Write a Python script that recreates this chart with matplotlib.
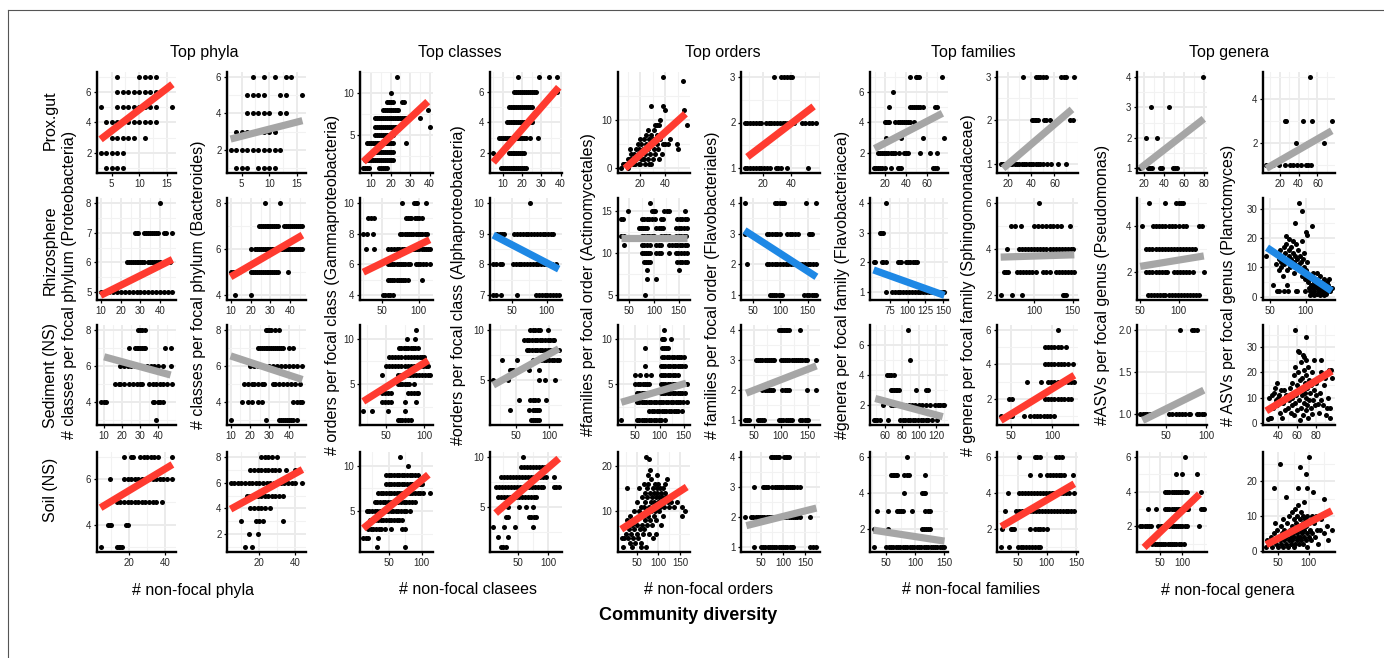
import matplotlib
matplotlib.use('Agg')
import matplotlib.pyplot as plt
from matplotlib.lines import Line2D
from matplotlib.ticker import FixedLocator, AutoMinorLocator, FuncFormatter

plt.rcParams['font.family'] = ['Liberation Sans', 'DejaVu Sans']

# ---------------- labels ----------------
group_titles = ["Top phyla", "Top classes", "Top orders", "Top families", "Top genera"]
group_xlabels = ["# non-focal phyla", "# non-focal clasees", "# non-focal orders",
                 "# non-focal families", "# non-focal genera"]
row_labels = ["Prox.gut", "Rhizosphere", "Sediment (NS)", "Soil (NS)"]
col_ylabels = ["# classes per focal phylum (Proteobacteria)",
               "# classes per focal phylum (Bacteroides)",
               "# orders per focal class (Gammaproteobacteria)",
               "#orders per focal class (Alphaproteobacteria)",
               "#families per focal order (Actinomycetales)",
               "# families per focal order (Flavobacteriales)",
               "#genera per focal family (Flavobacteriacea)",
               "# genera per focal family (Sphingomonadaceae)",
               "#ASVs per focal genus (Pseudomonas)",
               "# ASVs per focal genus (Planctomyces)"]
overall_xlabel = "Community diversity"

# ---------------- Prox.gut ----------------
gut_prot = [(7, [6, 10, 11, 12, 13]), (6, [6, 7, 8, 9, 10, 11, 12, 13]),
            (5, [3, 6, 7, 8, 9, 10, 11, 12, 13, 16]), (4, [4, 5, 6, 7, 8, 9, 10, 11, 12, 13]),
            (3, [5, 6, 7, 8, 9, 11]), (2, [3, 4, 5, 6, 7]), (1, [4, 5, 6, 7])]
gut_bact = [(6, [7, 9, 11, 13, 14]), (5, [6, 7, 8, 9, 12, 13, 16]), (4, [6, 7, 8, 9, 10, 12, 13]),
            (3, [4, 5, 6, 7, 8, 9, 10, 11]), (2, [3, 4, 5, 6, 7, 8, 9, 10, 11, 12]),
            (1, [4, 5, 6, 8, 9, 10, 11])]
gut_gamma = [(12, [23]), (10, [20]), (9, [18, 19, 20, 21, 26, 27]),
             (8, [16, 17, 18, 19, 20, 21, 22, 23, 24, 39]),
             (7, [12, 13, 14, 15, 16, 17, 18, 19, 20, 21, 22, 23, 24, 25, 26, 27, 28, 35]),
             (6, [12, 13, 14, 15, 16, 17, 18, 19, 20, 21, 22, 23, 40]),
             (5, [12, 13, 14, 15, 16, 17, 18, 19, 20, 21]),
             (4, [8, 9, 10, 11, 12, 13, 14, 15, 16, 17, 18, 19, 20, 21, 28]),
             (3, [12, 13, 14, 15, 16, 17, 18, 19, 20, 21]),
             (2, [7, 8, 9, 10, 11, 12, 13, 14, 15, 16, 17, 18, 19, 20, 21]),
             (1, [6, 7, 8, 9, 14, 15, 16, 17, 18])]
gut_alpha = [(7, [18, 29, 34, 38]), (6, [16, 17, 18, 19, 20, 21, 22, 23, 24, 25, 26, 27, 38]),
             (5, [13, 14, 15, 16, 17, 18, 19, 20, 21, 22, 23, 24, 25]),
             (4, [12, 13, 14, 15, 16, 17, 18, 19, 20, 21, 22, 23, 24, 25]),
             (3, [8, 9, 10, 11, 12, 13, 14, 15, 16, 17, 18, 19, 20, 21, 22, 24, 28]),
             (2, [5, 13, 14, 15, 16, 17, 18, 19, 20, 21]),
             (1, [9, 10, 11, 12, 13, 14, 15, 16, 17, 18, 19, 20, 21, 22])]
gut_actino = [(38, 19), (54, 18), (29, 13), (38, 13), (40, 12), (55, 12), (33, 9), (35, 9), (57, 9),
              (12, 4), (49, 5), (50, 4), (40, 5), (42, 5), (5, 0), (6, 1), (7, 1), (8, 1), (9, 1),
              (10, 2), (11, 1), (12, 2), (13, 2), (14, 2), (15, 3), (16, 1), (17, 2), (18, 3), (19, 4),
              (20, 1), (20, 3), (21, 5), (22, 4), (22, 2), (23, 6), (24, 3), (25, 5), (25, 7), (26, 4),
              (26, 2), (27, 6), (28, 3), (28, 5), (29, 7), (30, 2), (30, 6), (31, 4), (32, 3), (33, 5),
              (33, 7), (34, 4), (35, 2), (36, 6), (37, 3), (20, 6), (18, 5), (24, 1), (15, 1), (10, 0),
              (13, 3), (27, 1), (31, 8), (29, 1), (23, 2), (19, 1), (17, 4), (32, 9), (36, 10), (26, 8),
              (44, 6), (38, 5), (21, 2), (16, 2), (14, 1)]
gut_flavo_o = [(3, [28, 33, 35, 37, 39, 41]),
               (2, [7, 9, 11, 13, 15, 17, 19, 22, 24, 26, 28, 30, 32, 34, 36, 38, 40, 42, 48, 50, 53, 55, 58]),
               (1, [7, 9, 11, 13, 15, 17, 19, 21, 23, 25, 29, 31, 33, 37, 52])]
gut_flavo_f = [(7, [44, 50, 51, 53, 75]), (6, [28]), (5, [24, 44, 46, 48, 50, 52, 54, 56, 68, 70]),
               (4, [20, 21, 23, 24, 30, 32, 34, 36, 38, 40, 42, 44, 48]), (3, [21, 35, 56, 77]),
               (2, [13, 15, 17, 19, 21, 23, 26, 28, 30, 33, 38, 40, 42, 54, 63, 70]),
               (1, [9, 11, 13, 15, 17, 20, 26, 32, 33, 35, 66, 68, 70])]
gut_sphingo = [(3, [33, 44, 46, 48, 50, 53, 66, 68, 70, 77]),
               (2, [41, 42, 43, 44, 46, 51, 53, 56, 73, 76]),
               (1, [14, 16, 18, 20, 22, 24, 26, 28, 30, 32, 34, 36, 38, 40, 42, 44, 46, 48, 50, 54, 57, 63, 70])]
gut_pseudo = [(4, [79]), (3, [27, 45]), (2, [22, 33]), (1, [16, 24, 26, 28, 36, 38, 49, 51, 53])]
gut_plancto = [(5, [52]), (3, [26, 27, 45, 54, 75]), (2, [37, 50, 67]),
               (1, [6, 13, 19, 26, 31, 34, 38, 43, 48, 50, 53])]

# ---------------- Rhizosphere ----------------
rhi_prot = [(8, [40]), (7, [27, 28, 29, 32, 33, 34, 35, 36, 37, 38, 39, 42, 43, 46]),
            (6, [23, 24, 25, 26, 27, 28, 29, 30, 31, 32, 34, 35, 36, 37, 38, 39, 40, 45]),
            (5, [10, 11, 12, 14, 16, 18, 20, 22, 24, 26, 28, 30, 32, 34, 36, 38, 40, 42, 44, 46])]
rhi_bact = [(8, [27, 35]),
            (7, [24, 25, 26, 27, 28, 29, 30, 31, 32, 33, 34, 37, 38, 39, 40, 41, 42, 43, 44, 45, 46]),
            (6, [20, 22, 23, 24, 25, 26, 27, 28, 29, 30, 31, 32, 33, 34, 35, 36, 37, 38, 39, 40, 41, 42,
                 43, 44, 45, 46]),
            (5, [10, 11, 12, 13, 14, 20, 21, 22, 23, 24, 25, 26, 27, 28, 29, 30, 31, 32, 33, 34, 39]),
            (4, [12, 20])]
rhi_gamma = [(10, [77, 94, 96, 98, 110]), (9, [31, 35, 40, 83, 85, 88, 90, 95, 98, 101, 104]),
             (8, [25, 30, 38, 75, 78, 81, 84, 87, 90, 93, 96, 99, 102, 105, 108, 112]),
             (7, [29, 39, 58, 62, 67, 71, 74, 77, 80, 83, 86, 89, 92, 95, 98, 101, 104, 107, 110, 113, 115]),
             (6, [58, 61, 64, 67, 70, 73, 76, 79, 82, 85, 88, 96, 99, 102, 106, 110, 115]),
             (5, [58, 61, 64, 67, 70, 73, 76, 79, 82, 85, 104]), (4, [52, 55, 58, 61, 65])]
rhi_alpha = [(10, [76]),
             (9, [30, 33, 36, 39, 54, 58, 62, 66, 70, 74, 78, 82, 86, 90, 94, 98, 102, 106, 109]),
             (8, [24, 28, 33, 37, 52, 56, 60, 64, 68, 72, 76, 80, 84, 88, 92, 96, 100, 104, 108, 113]),
             (7, [24, 28, 35, 58, 85, 89, 93, 97, 101, 105, 109, 113, 117])]
rhi_actino = [(16, [92]), (15, [47, 95, 99, 102, 121, 126, 131, 163]),
              (14, [34, 37, 76, 80, 85, 90, 95, 102, 114, 118, 147, 152, 157, 162, 166]),
              (13, [69, 73, 77, 81, 85, 105, 110, 114, 118, 144, 150, 155, 160, 166]),
              (12, [34, 40, 75, 80, 85, 90, 95, 100, 115, 120, 125, 130, 145, 150, 155, 160, 165]),
              (11, [40, 76, 80, 85, 92, 105, 110, 114, 131, 137, 142, 147, 152, 157, 162, 166]),
              (10, [76, 80, 84, 88, 92, 105, 110, 115, 131, 144, 149, 154, 160, 166]),
              (9, [79, 83, 87, 92, 147, 152, 157, 162, 166]), (8, [85, 150]), (7, [85, 105]), (5, [82])]
rhi_flavo_o = [(4, [35, 91, 95, 99, 103, 106, 147, 165]),
               (3, [35, 75, 80, 85, 90, 95, 100, 112, 117, 122, 127, 132, 152, 155, 158]),
               (2, [39, 75, 80, 85, 90, 95, 100, 105, 110, 115, 120, 125, 130, 135, 140, 145, 150, 155,
                    160, 166]),
               (1, [81, 85, 89, 93, 97, 101, 103, 143, 148, 153, 158, 162, 166])]
rhi_flavo_f = [(4, [69]), (3, [61, 63, 65]),
               (2, [52, 54, 64, 66, 69, 87, 89, 91, 98, 101, 104, 107, 110, 113]),
               (1, [69, 78, 82, 86, 90, 94, 98, 102, 106, 110, 114, 118, 122, 126, 130, 134, 138, 142,
                    146, 150, 152])]
rhi_sphingo = [(6, [106]), (5, [70, 76, 83, 100, 105, 110, 115, 120, 125, 130, 135, 146]),
               (4, [65, 80, 84, 88, 92, 96, 100, 104, 108, 112, 116, 120, 124, 128, 132, 136, 140, 144,
                    148, 150]),
               (3, [61, 64, 67, 78, 82, 86, 90, 94, 98, 102, 111, 115, 120, 128, 132, 136, 140, 144, 148,
                    152]),
               (2, [57, 72, 84, 137, 139, 141])]
rhi_pseudo = [(5, [62, 83, 97, 100, 103, 106]),
              (4, [52, 67, 71, 75, 79, 83, 87, 91, 95, 100, 106, 110, 127, 131]),
              (3, [58, 62, 66, 70, 74, 78, 82, 86, 90, 94, 98, 102, 106, 110, 114, 118, 121]),
              (2, [58, 62, 66, 70, 74, 78, 82, 85, 94, 98, 102, 106, 110, 114, 119, 133]),
              (1, [60, 64, 68, 72, 76, 80, 83, 87, 91, 95, 99, 103, 107, 111, 115, 119, 123, 127])]
rhi_plancto = [(91, 32), (95, 29), (85, 25), (108, 24), (100, 22), (102, 21), (73, 20.5), (76, 19.5),
               (82, 19), (45, 14), (55, 4), (58, 11), (60, 15), (62, 13), (63, 9), (64, 16), (65, 12),
               (66, 10), (67, 14), (68, 7), (69, 17), (70, 11), (71, 15), (72, 13), (73, 18), (74, 9),
               (75, 12), (76, 16), (77, 14), (78, 10), (79, 13), (80, 17), (81, 11), (82, 15), (83, 8),
               (84, 12), (85, 14), (86, 10), (87, 18), (88, 13), (89, 16), (90, 11), (91, 9), (92, 14),
               (93, 12), (94, 19), (95, 7), (96, 13), (97, 15), (98, 10), (99, 6), (100, 9), (101, 12),
               (102, 8), (103, 5), (60, 2), (62, 2), (70, 2), (74, 4), (75, 2), (86, 2), (88, 2), (99, 2),
               (104, 3), (105, 6), (106, 2), (107, 4), (108, 1), (109, 7), (110, 3), (111, 5), (112, 2),
               (113, 4), (114, 6), (115, 1), (116, 3), (117, 5), (118, 2), (119, 4), (120, 7), (121, 3),
               (122, 1), (123, 5), (124, 2), (125, 6), (126, 4), (127, 3), (128, 1), (129, 5), (130, 2),
               (131, 4), (132, 6), (133, 3), (134, 2), (136, 3), (110, 8), (115, 8), (106, 0.5),
               (112, 0.5), (120, 0.5), (125, 0.5)]

# ---------------- Sediment ----------------
sed_prot = [(8, [29, 30, 31, 33]), (7, [24, 27, 28, 29, 30, 31, 32, 33, 44, 47]),
            (6, [19, 21, 23, 25, 27, 29, 31, 34, 36, 38, 40, 43, 47]),
            (5, [16, 18, 19, 21, 24, 26, 28, 30, 31, 35, 37, 39, 41, 43, 45, 48]),
            (4, [8, 10, 11, 37, 38, 40, 41, 43]), (3, [39])]
sed_bact = [(8, [28, 29, 30, 31, 33, 35]),
            (7, [24, 25, 26, 27, 28, 29, 30, 31, 32, 33, 34, 35, 36, 37, 40, 42]),
            (6, [20, 22, 24, 26, 27, 30, 32, 34, 36, 38, 40, 42, 44, 47]),
            (5, [17, 19, 21, 22, 24, 26, 27, 32, 33, 35, 37, 39, 41, 43, 46]),
            (4, [16, 19, 21, 24, 26, 42, 44, 46, 47]),
            (3, [10, 28, 35, 36, 37, 38, 39, 40, 41, 42, 44])]
sed_gamma = [(11, [89]), (10, [77, 88]), (9, [67, 70, 73, 76, 79, 82, 85, 88, 92]),
             (8, [54, 58, 62, 66, 70, 74, 78, 82, 86, 90, 94, 97, 99]),
             (7, [50, 54, 58, 62, 66, 70, 74, 78, 82, 86, 90, 94, 98, 102, 105]),
             (6, [45, 65, 69, 73, 77, 81, 85, 89, 93, 97, 101, 105, 107]),
             (5, [65, 68, 71, 74, 77, 80, 87]), (4, [44, 48, 52, 56, 78, 82, 86, 90, 92]),
             (3, [44, 48, 52, 56, 75, 89]), (2, [20, 31, 53, 75]), (1, [65, 68, 71, 74, 78, 82])]
sed_alpha = [(10, [71, 75, 79, 83, 87, 98]),
             (9, [62, 66, 70, 74, 78, 82, 86, 90, 94, 98, 102, 106, 108]),
             (8, [66, 70, 74, 78, 82, 86, 90, 94, 98, 102, 106, 110, 115]),
             (7, [29, 51, 76, 80, 84, 88, 92, 96, 100, 104, 108, 112, 115]),
             (6, [41, 43, 45, 69, 85]), (5, [15, 38, 85, 94, 109]), (3, [55, 71, 75, 79, 83, 95]),
             (2, [41, 69, 76, 79, 82, 85]), (1, [73, 76, 79, 82, 85])]
sed_actino = [(11, [110]), (10, [105, 108, 110, 124]), (9, [69, 105, 110, 114, 118]),
              (8, [105, 110, 115, 120, 125, 130, 135, 140, 145, 150]),
              (7, [69, 102, 107, 112, 117, 122, 127, 132, 137, 142, 147, 153]),
              (6, [50, 60, 73, 82, 102, 107, 112, 117, 122, 127, 132, 137]),
              (5, [50, 55, 60, 65, 70, 75, 79, 102, 107, 112, 117, 122, 127, 132, 137, 142, 147, 152, 156]),
              (4, [53, 58, 63, 68, 73, 78, 85, 102, 107, 112, 117, 122, 127, 132, 137, 142, 147, 153]),
              (3, [53, 58, 63, 68, 73, 78, 83, 88, 93, 98, 103, 108, 113, 118, 123, 128, 133, 138, 143,
                   148, 156]),
              (2, [79, 84, 89, 94, 99, 104, 109, 114, 119, 124, 129, 134, 139, 147]),
              (1, [21, 53, 58, 63, 68, 73, 78, 83, 88, 93, 98, 103, 111])]
sed_flavo_o = [(4, [97, 100, 103, 106, 109, 112, 115, 136]),
               (3, [54, 58, 62, 66, 70, 74, 78, 82, 86, 88, 100, 104, 108, 112, 116, 120, 124, 128, 132,
                    136, 140, 144, 148, 166]),
               (2, [66, 70, 74, 78, 82, 85, 103, 107, 111, 115, 148, 166]),
               (1, [33, 37, 42, 57, 61, 65, 69, 97, 101, 105, 109, 113, 117, 121, 136, 140, 144, 148, 151])]
sed_flavo_f = [(7, [87]), (5, [90]), (4, [63, 65, 68, 71]), (3, [67, 69, 71, 73, 75, 77, 97, 108, 111]),
               (2, [58, 67, 70, 73, 80, 84, 88, 92, 96, 100, 104, 108, 113, 119, 122, 125, 128, 130]),
               (1, [47, 49, 51, 54, 64, 78, 81, 84, 87, 90, 93, 96, 99, 102, 105, 108, 111, 115, 121])]
sed_sphingo = [(6, [107]), (5, [91, 95, 99, 103, 107, 111, 117]),
               (4, [91, 95, 99, 103, 107, 111, 115, 119, 125]),
               (3, [70, 87, 95, 99, 103, 107, 111, 115, 119, 123, 127]),
               (2, [48, 52, 91, 95, 99, 103, 107, 111, 115, 119, 123]),
               (1, [38, 48, 52, 66, 74, 78, 82, 86, 90, 94, 98, 103])]
sed_pseudo = [(2.0, [68, 82, 85, 88]),
              (1.0, [18, 21, 24, 27, 30, 33, 54, 58, 62, 66, 70, 74, 78, 80, 88, 91, 95, 97])]
sed_plancto = [(58, 37), (69, 34), (61, 28.5), (62, 28), (66, 27), (67, 26), (39, 16), (36, 14), (86, 25),
               (78, 25), (94, 21), (92, 6), (82, 7.5), (95, 2), (76, 3.5), (29, 1.5), (32, 2), (47, 5),
               (30, 10), (33, 11), (35, 12), (37, 9), (38, 7), (40, 10), (42, 4), (44, 2), (45, 8),
               (46, 13), (48, 11), (50, 6), (51, 9), (52, 14), (53, 4), (54, 10), (55, 7), (55, 16),
               (56, 12), (57, 3), (57, 19), (58, 8), (58, 22), (59, 11), (60, 15), (60, 5), (61, 20),
               (62, 9), (62, 13), (63, 1), (63, 17), (64, 6), (64, 24), (65, 11), (65, 18), (66, 3),
               (66, 14), (67, 8), (67, 21), (68, 12), (68, 16), (69, 5), (69, 25), (70, 10), (70, 19),
               (71, 7), (71, 14), (72, 22), (72, 2), (73, 9), (73, 17), (74, 12), (75, 15), (75, 6),
               (76, 20), (77, 9), (78, 13), (79, 7), (80, 16), (80, 11), (82, 18), (83, 4), (84, 12),
               (85, 20), (86, 9), (88, 7), (89, 15), (90, 18), (91, 3), (93, 10), (95, 6), (96, 21),
               (97, 18), (41, 11), (43, 13), (34, 6), (31, 2)]

# ---------------- Soil ----------------
soil_prot = [(7, [17, 21, 22, 26, 28, 30, 32, 34, 36, 44]),
             (6, [9, 17, 19, 21, 23, 25, 27, 29, 31, 33, 35, 37, 39, 41, 44]),
             (5, [13, 15, 17, 19, 21, 23, 25, 27, 29, 31, 33, 35, 38]),
             (4, [8, 9, 10, 18, 19]), (3, [4, 13, 14, 15, 16])]
soil_bact = [(8, [21, 23, 25, 27, 30]), (7, [15, 17, 19, 21, 23, 25, 27, 29, 31, 35, 40]),
             (6, [4, 6, 8, 10, 12, 14, 16, 18, 20, 22, 24, 26, 28, 30, 32, 34, 36, 38, 40, 44]),
             (5, [13, 15, 17, 19, 21, 23, 25, 27, 29, 31, 33]), (4, [15, 17, 19, 21, 23, 26]),
             (3, [10, 18, 20, 22, 33]), (2, [14, 19]), (1, [12, 16])]
soil_gamma = [(11, [68]), (10, [80]), (9, [46, 50, 54, 58, 62, 66, 70, 74, 78, 82, 86, 90, 95]),
              (8, [46, 50, 54, 58, 62, 66, 70, 74, 78, 82, 86, 90, 94, 98, 100]),
              (7, [34, 38, 42, 46, 50, 54, 58, 62, 66, 70, 74, 78, 82, 86, 90, 94, 98, 102, 112]),
              (6, [29, 33, 37, 41, 45, 49, 53, 57, 61, 65, 69, 73, 77, 81, 85, 90]),
              (5, [17, 21, 25, 29, 33, 37, 41, 45, 49, 53, 57, 61, 65, 69, 73, 77, 83]),
              (4, [22, 26, 30, 34, 38, 42, 46, 50, 54, 58, 62, 66, 71]),
              (3, [19, 23, 27, 31, 35, 39, 44, 53, 71, 75]), (2, [12, 16, 19, 34]), (1, [33, 75])]
soil_alpha = [(10, [58]), (9, [55, 60, 65, 70, 75, 80, 85, 90, 95, 100]),
              (8, [21, 26, 31, 36, 41, 46, 51, 56, 61, 66, 71, 76, 81, 86, 91, 97, 110]),
              (7, [13, 18, 23, 28, 33, 38, 43, 48, 53, 58, 63, 68, 73, 78, 83, 88, 92, 110, 114, 118]),
              (6, [16, 21, 26, 31, 36, 41, 46, 51, 56, 61, 66, 71, 76, 79]),
              (5, [32, 52, 63, 74]), (4, [29, 32, 68, 72, 76, 79]), (3, [8, 26, 45, 74]),
              (2, [16, 32]), (1, [21, 25, 29])]
soil_actino = [(71, 22), (78, 21.5), (81, 19), (76, 18), (98, 18), (28, 15), (120, 17), (143, 12),
               (154, 11), (161, 10), (154, 9), (72, 2), (19, 2), (17, 4), (25, 5), (28, 8), (30, 4),
               (32, 6), (34, 3), (35, 9), (38, 5), (40, 7), (42, 4), (44, 10), (45, 6), (47, 3), (48, 8),
               (50, 5), (50, 12), (52, 7), (54, 4), (55, 10), (56, 15), (57, 6), (58, 9), (60, 11),
               (60, 3), (62, 7), (63, 13), (64, 5), (65, 9), (66, 16), (67, 11), (68, 6), (69, 14),
               (70, 8), (70, 12), (72, 10), (73, 15), (74, 7), (75, 13), (76, 9), (77, 16), (78, 11),
               (79, 5), (80, 14), (80, 8), (82, 12), (83, 17), (84, 10), (85, 13), (86, 7), (87, 15),
               (88, 11), (89, 9), (90, 14), (91, 12), (92, 16), (93, 10), (94, 13), (95, 8), (96, 15),
               (97, 11), (98, 14), (99, 12), (100, 16), (101, 10), (102, 13), (103, 15), (104, 11),
               (105, 14), (106, 12), (108, 13), (110, 15), (112, 11), (114, 12), (116, 14), (118, 13),
               (122, 12), (125, 11), (130, 12), (135, 11), (88, 4), (95, 5), (60, 2), (40, 2), (22, 4),
               (110, 9), (115, 16), (105, 7)]
soil_flavo_o = [(4, [72, 76, 80, 84, 88, 91, 102, 106, 110, 113]),
                (3, [35, 54, 58, 62, 65, 76, 81, 86, 91, 96, 101, 106, 111, 116, 121, 126, 131, 139]),
                (2, [13, 28, 33, 38, 43, 48, 53, 58, 63, 68, 73, 78, 83, 88, 93, 98, 103, 108, 113, 118,
                     123, 128, 133, 139, 161]),
                (1, [35, 50, 55, 60, 65, 70, 75, 80, 85, 90, 95, 100, 105, 110, 115, 120, 124, 161, 168,
                     176])]
soil_flavo_f = [(6, [86]), (5, [58, 61, 64, 66, 69, 81, 85, 89, 117]), (4, [81, 111, 114, 117]),
                (3, [34, 53, 68, 72, 75, 78, 94, 117, 121, 125]),
                (2, [28, 53, 111, 114, 118, 121, 125]),
                (1, [28, 50, 54, 58, 62, 66, 70, 74, 78, 82, 86, 90, 94, 98, 102, 106, 110, 114, 118,
                     122, 126, 130, 134, 138, 142, 146, 150])]
soil_sphingo = [(6, [53, 79, 83, 88, 115, 120, 126]),
                (5, [72, 88, 100, 105, 110, 115, 120, 125, 129, 144]),
                (4, [34, 53, 58, 63, 68, 73, 78, 83, 88, 93, 98, 103, 108, 113, 118, 123, 128, 133, 138,
                     147]),
                (3, [29, 47, 52, 57, 62, 67, 72, 77, 82, 87, 92, 97, 102, 107, 112, 117, 122, 127, 132,
                     137, 142, 147]),
                (2, [24, 38, 41, 44, 71, 79, 84, 89, 94, 100]),
                (1, [21, 35, 50, 55, 60, 65, 70, 75, 80, 84, 88])]
soil_pseudo = [(6, [106]), (5, [86, 100, 134]),
               (4, [61, 66, 71, 76, 81, 86, 91, 96, 101, 106, 111, 143]),
               (3, [23, 41, 61, 66, 71, 76, 81, 86, 91, 96, 101, 106, 111, 114, 143, 147, 150]),
               (2, [4, 9, 14, 19, 24, 29, 46, 51, 56, 61, 66, 71, 76, 81, 86, 91, 96, 101, 106, 111, 138]),
               (1, [32, 37, 42, 47, 52, 57, 62, 67, 72, 77, 82, 87, 92, 97, 104])]
soil_plancto = [(101, 27), (53, 25), (86, 24), (96, 22), (42, 18), (82, 18), (97, 18), (107, 17),
                (63, 15.5), (126, 15), (93, 14), (83, 13), (45, 8), (113, 6), (131, 7), (138, 6),
                (132, 3), (98, 1), (30, 1), (32, 3), (35, 2), (37, 4), (40, 1), (42, 5), (44, 3), (46, 2),
                (48, 6), (50, 1), (50, 4), (52, 3), (54, 7), (55, 2), (56, 5), (58, 1), (58, 9), (60, 3),
                (60, 6), (62, 4), (63, 2), (64, 8), (65, 5), (66, 1), (67, 3), (68, 10), (69, 6), (70, 2),
                (70, 4), (72, 7), (72, 11), (73, 3), (74, 5), (75, 9), (75, 1), (76, 4), (77, 6), (78, 2),
                (78, 12), (79, 8), (80, 3), (80, 5), (81, 10), (82, 7), (83, 4), (84, 2), (85, 9), (85, 6),
                (86, 4), (87, 11), (88, 3), (88, 7), (89, 5), (90, 8), (90, 10), (91, 2), (92, 6), (93, 4),
                (94, 9), (95, 3), (96, 7), (97, 5), (98, 10), (100, 4), (100, 8), (102, 6), (104, 3),
                (105, 10), (106, 5), (108, 8), (110, 4), (112, 10), (115, 2), (118, 6), (120, 9), (125, 5)]

# ---------------- regression lines (x0, y0, x1, y1, direction) ----------------
gut_fit = [(3, 2.9, 16, 6.5, 'pos'), (3, 2.6, 16, 3.6, 'ns'), (6, 1.8, 39, 9.0, 'pos'),
           (5, 1.4, 39, 6.3, 'pos'), (8, 0.0, 56, 11.3, 'pos'), (9, 1.25, 56, 2.35, 'pos'),
           (10, 2.3, 75, 4.6, 'ns'), (16, 0.9, 75, 2.25, 'ns'), (16, 1.0, 80, 2.62, 'ns'),
           (6, 0.85, 75, 2.55, 'ns')]
rhi_fit = [(10, 4.9, 46, 6.1, 'pos'), (10, 4.8, 46, 6.6, 'pos'), (25, 5.5, 115, 7.6, 'pos'),
           (24, 8.95, 117, 7.85, 'neg'), (34, 11.8, 166, 11.8, 'ns'), (35, 3.1, 166, 1.6, 'neg'),
           (52, 1.75, 152, 0.9, 'neg'), (57, 3.65, 152, 3.75, 'ns'), (50, 2.25, 133, 2.7, 'ns'),
           (46, 16.7, 136, 2.0, 'neg')]
sed_fit = [(10, 6.5, 47, 5.5, 'ns'), (10, 6.55, 47, 5.25, 'ns'), (20, 3.1, 105, 7.6, 'pos'),
           (15, 4.5, 115, 8.1, 'ns'), (21, 3.0, 155, 5.1, 'ns'), (36, 1.9, 166, 2.8, 'ns'),
           (49, 2.45, 128, 1.25, 'ns'), (38, 0.77, 127, 3.37, 'pos'), (21, 0.92, 97, 1.28, 'ns'),
           (27, 4.8, 97, 20.5, 'pos')]
soil_fit = [(4, 4.75, 44, 6.65, 'pos'), (4, 3.95, 44, 7.0, 'pos'), (12, 3.1, 110, 9.0, 'pos'),
            (12, 4.4, 118, 9.8, 'pos'), (15, 6.0, 165, 15.3, 'pos'), (17, 1.72, 176, 2.3, 'ns'),
            (28, 1.95, 150, 1.35, 'ns'), (22, 2.15, 147, 4.5, 'pos'), (13, 0.8, 140, 3.85, 'pos'),
            (30, 1.8, 138, 11.5, 'pos')]

# ---------------- axis breaks ----------------
gut_xticks = [[5, 10, 15], [5, 10, 15], [10, 20, 30, 40], [10, 20, 30, 40], [20, 40], [20, 40],
              [20, 40, 60], [20, 40, 60], [20, 40, 60, 80], [20, 40, 60]]
gut_yticks = [[2, 4, 6], [2, 4, 6], [5, 10], [2, 4, 6], [0, 10], [1, 2, 3], [2, 4, 6], [1, 2, 3],
              [1, 2, 3, 4], [2, 4]]
rhi_xticks = [[10, 20, 30, 40], [10, 20, 30, 40], [50, 100], [50, 100], [50, 100, 150],
              [50, 100, 150], [75, 100, 125, 150], [100, 150], [50, 100], [50, 100]]
rhi_yticks = [[5, 6, 7, 8], [4, 6, 8], [4, 6, 8, 10], [7, 8, 9, 10], [5, 10, 15], [1, 2, 3, 4],
              [1, 2, 3, 4], [2, 4, 6], [2, 4], [0, 10, 20, 30]]
sed_xticks = [[10, 20, 30, 40], [10, 20, 30, 40], [50, 100], [50, 100], [50, 100, 150],
              [50, 100, 150], [60, 80, 100, 120], [50, 100], [50, 100], [40, 60, 80]]
sed_yticks = [[4, 6, 8], [4, 6, 8], [5, 10], [5, 10], [5, 10], [1, 2, 3, 4], [2, 4, 6], [2, 4, 6],
              [1.0, 1.5, 2.0], [0, 10, 20, 30]]
soil_xticks = [[20, 40], [20, 40], [50, 100], [50, 100], [50, 100, 150], [50, 100, 150],
               [50, 100, 150], [50, 100, 150], [50, 100], [50, 100]]
soil_yticks = [[4, 6], [2, 4, 6, 8], [5, 10], [5, 10], [10, 20], [1, 2, 3, 4], [2, 4, 6], [2, 4, 6],
               [2, 4, 6], [0, 10, 20]]

rows = [
    ([gut_prot, gut_bact, gut_gamma, gut_alpha, gut_actino, gut_flavo_o, gut_flavo_f, gut_sphingo,
      gut_pseudo, gut_plancto], gut_fit, gut_xticks, gut_yticks),
    ([rhi_prot, rhi_bact, rhi_gamma, rhi_alpha, rhi_actino, rhi_flavo_o, rhi_flavo_f, rhi_sphingo,
      rhi_pseudo, rhi_plancto], rhi_fit, rhi_xticks, rhi_yticks),
    ([sed_prot, sed_bact, sed_gamma, sed_alpha, sed_actino, sed_flavo_o, sed_flavo_f, sed_sphingo,
      sed_pseudo, sed_plancto], sed_fit, sed_xticks, sed_yticks),
    ([soil_prot, soil_bact, soil_gamma, soil_alpha, soil_actino, soil_flavo_o, soil_flavo_f,
      soil_sphingo, soil_pseudo, soil_plancto], soil_fit, soil_xticks, soil_yticks),
]

FIT_COLORS = {'pos': '#FF3B30', 'neg': '#1E88E5', 'ns': '#A6A6A6'}

# ---------------- layout (pixels) ----------------
W, H = 1384, 658
col_left = [97, 227, 360, 490, 618, 741, 870, 997, 1137, 1263]
col_right = [176, 306, 433, 562, 690, 820, 948, 1078, 1207, 1335]
row_top = [72, 198, 325, 452]
row_bottom = [173, 300, 425, 552]


def expand(panel):
    if isinstance(panel[0][1], list):
        xs = [x for y, lst in panel for x in lst]
        ys = [y for y, lst in panel for _ in lst]
    else:
        xs = [p[0] for p in panel]
        ys = [p[1] for p in panel]
    return xs, ys


def fx(x):
    return x / W


def fy(y):
    return 1 - y / H


fig = plt.figure(figsize=(W / 100, H / 100), dpi=100)
fig.patch.set_facecolor('white')

for r, (panels, fits, xticks, yticks) in enumerate(rows):
    for c in range(10):
        l, rgt = col_left[c], col_right[c]
        t, b = row_top[r], row_bottom[r]
        ax = fig.add_axes([fx(l), fy(b), (rgt - l) / W, (b - t) / H])
        xs, ys = expand(panels[c])
        x0, y0, x1, y1, kind = fits[c]
        allx = xs + [x0, x1]
        ally = ys + [y0, y1]
        xmin, xmax = min(allx), max(allx)
        ymin, ymax = min(ally), max(ally)
        dx = (xmax - xmin) * 0.05
        dy = (ymax - ymin) * 0.05
        ax.set_xlim(xmin - dx, xmax + dx)
        ax.set_ylim(ymin - dy, ymax + dy)
        ax.xaxis.set_major_locator(FixedLocator(xticks[c]))
        ax.yaxis.set_major_locator(FixedLocator(yticks[c]))
        ax.xaxis.set_minor_locator(AutoMinorLocator(2))
        ax.yaxis.set_minor_locator(AutoMinorLocator(2))
        yt = yticks[c]
        if not any(isinstance(v, float) for v in yt):
            ax.yaxis.set_major_formatter(FuncFormatter(lambda v, p: '%d' % round(v)))
        else:
            ax.yaxis.set_major_formatter(FuncFormatter(lambda v, p: '%.1f' % v))
        ax.xaxis.set_major_formatter(FuncFormatter(lambda v, p: '%d' % round(v)))
        ax.grid(True, which='major', color='#EBEBEB', lw=1.4, zorder=0)
        ax.grid(True, which='minor', color='#F2F2F2', lw=0.8, zorder=0)
        ax.set_axisbelow(True)
        for side in ('top', 'right'):
            ax.spines[side].set_visible(False)
        for side in ('left', 'bottom'):
            ax.spines[side].set_color('black')
            ax.spines[side].set_linewidth(1.7)
        ax.tick_params(which='major', direction='out', length=2.5, width=0.9, color='black',
                       labelsize=7, labelcolor='#262626', pad=1.5)
        ax.tick_params(which='minor', length=0)
        ax.scatter(xs, ys, s=13, c='black', linewidths=0, zorder=3)
        ax.plot([x0, x1], [y0, y1], color=FIT_COLORS[kind], lw=5.2, solid_capstyle='butt', zorder=4)
        ax.set_facecolor('white')

# column y labels
col_ylabel_x = [70, 199, 332, 458, 588, 712, 843, 968, 1103, 1228]
for c in range(10):
    fig.text(fx(col_ylabel_x[c]), fy(285), col_ylabels[c], rotation=90, ha='center', va='center',
             fontsize=11.5, color='black')

# row labels
row_label_y = [120, 250, 376, 490]
for r in range(4):
    fig.text(fx(50), fy(row_label_y[r]), row_labels[r], rotation=90, ha='center', va='center',
             fontsize=11.5, color='black')

# group titles and x labels
title_x = [204, 460, 723, 973, 1229]
xlabel_x = [193, 468, 709, 971, 1228]
for g in range(5):
    fig.text(fx(title_x[g]), fy(53), group_titles[g], ha='center', va='center', fontsize=11.5)
    fig.text(fx(xlabel_x[g]), fy(590), group_xlabels[g], ha='center', va='center', fontsize=11.5)

fig.text(fx(688), fy(615), overall_xlabel, ha='center', va='center', fontsize=13, fontweight='bold')

# thin frame lines (top and left)
fig.add_artist(Line2D([fx(8), fx(1384)], [fy(10), fy(10)], color='#555555', lw=0.8))
fig.add_artist(Line2D([fx(8), fx(8)], [fy(10), fy(658)], color='#555555', lw=0.8))

fig.savefig('out.png', dpi=100, facecolor='white')
